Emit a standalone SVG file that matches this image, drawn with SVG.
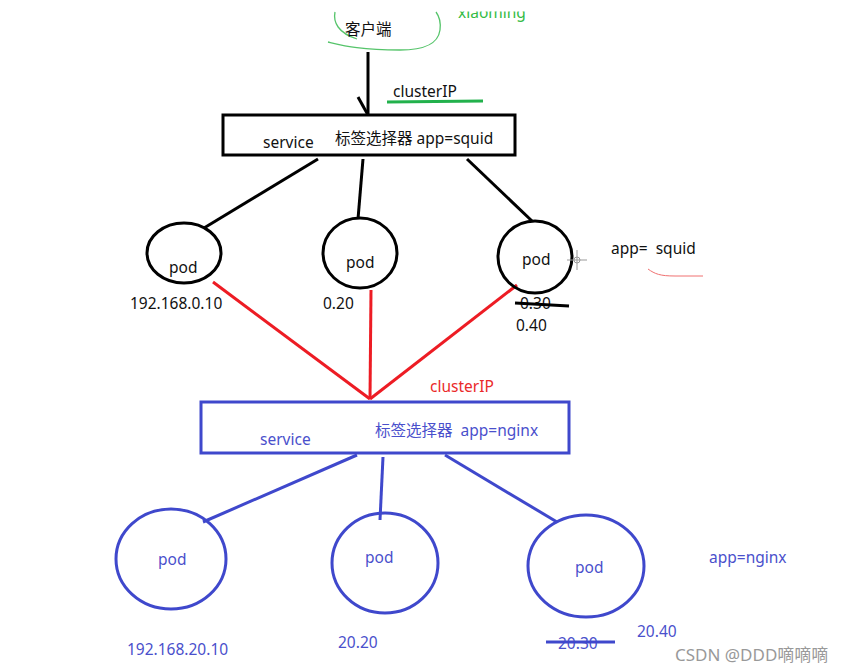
<svg xmlns="http://www.w3.org/2000/svg" width="844" height="672" viewBox="0 0 844 672">
<style>
text{font-family:"Noto Sans","Noto Sans CJK SC",sans-serif;font-size:15.5px;white-space:pre}
.k{fill:#111}
.b{fill:#4a50cc}
.r{fill:#ea2a2a}
.g{fill:#33bb44}
.kl{stroke:#000;stroke-width:3;fill:none}
.rl{stroke:#ed1c24;stroke-width:3;fill:none}
.bl{stroke:#3f48cc;stroke-width:3;fill:none}
</style>
<defs><clipPath id="cut"><rect x="0" y="11.5" width="844" height="660"/></clipPath></defs>
<rect width="844" height="672" fill="#fff"/>

<g id="client">
<path d="M335,12 C333,22 338,33 357,39 M328,42 C345,46 360,50 400,50 C425,50 438,44 440,30 C441,22 439,16 436,12" stroke="#55c46a" stroke-width="1.3" fill="none"/>
<text class="k" x="345" y="35">客户端</text>
<text class="g" x="458" y="18" clip-path="url(#cut)">xiaoming</text>
</g>

<g id="connectors">
<polyline class="kl" points="368,52 368,115"/>
<polyline class="kl" points="358,97 368,115"/>
<line x1="387" y1="102" x2="483" y2="101" stroke="#22b14c" stroke-width="3"/>
<line class="kl" x1="318" y1="159" x2="204" y2="228"/>
<line class="kl" x1="363" y1="159" x2="358" y2="219"/>
<line class="kl" x1="467" y1="159" x2="532" y2="221"/>
<line class="rl" x1="213" y1="282" x2="370" y2="399"/>
<line class="rl" x1="371" y1="290" x2="370" y2="399"/>
<line class="rl" x1="517" y1="285" x2="370" y2="399"/>
<line class="bl" x1="357" y1="455" x2="203" y2="522"/>
<line class="bl" x1="383" y1="457" x2="380" y2="520"/>
<line class="bl" x1="445" y1="455" x2="557" y2="522"/>
</g>

<text class="k" x="393" y="97">clusterIP</text>

<g id="service-squid">
<rect class="kl" x="223" y="115" width="292" height="40"/>
<text class="k" x="263" y="148">service</text>
<text class="k" x="335" y="144">标签选择器 app=squid</text>
</g>

<g id="pod1">
<ellipse class="kl" cx="184" cy="253" rx="37" ry="30"/>
<text class="k" x="169" y="273">pod</text>
<text class="k" x="130" y="309">192.168.0.10</text>
</g>
<g id="pod2">
<ellipse class="kl" cx="360" cy="253" rx="37" ry="35"/>
<text class="k" x="346" y="268">pod</text>
<text class="k" x="323" y="309">0.20</text>
</g>
<g id="pod3">
<ellipse class="kl" cx="535" cy="257" rx="37" ry="36"/>
<text class="k" x="522" y="265">pod</text>
<text class="k" x="520" y="309">0.30</text>
<line x1="515" y1="303" x2="569" y2="306" stroke="#000" stroke-width="3"/>
<text class="k" x="516" y="331">0.40</text>
</g>
<g id="cursor" stroke="#999" stroke-width="1" fill="none">
<circle cx="577" cy="260" r="3"/>
<line x1="567" y1="260" x2="587" y2="260"/>
<line x1="577" y1="250" x2="577" y2="270"/>
</g>
<g id="label-squid">
<text class="k" x="611" y="254">app=  squid</text>
<path d="M648,269 C655,274 660,276 675,276 L703,276" stroke="#f07070" stroke-width="1" fill="none"/>
</g>

<text class="r" x="430" y="392">clusterIP</text>

<g id="service-nginx">
<rect class="bl" x="201" y="402" width="368" height="51"/>
<text class="b" x="260" y="445">service</text>
<text class="b" x="375" y="436">标签选择器  app=nginx</text>
</g>

<g id="npod1">
<ellipse class="bl" cx="171" cy="559" rx="55" ry="50"/>
<text class="b" x="158" y="565">pod</text>
<text class="b" x="127" y="655">192.168.20.10</text>
</g>
<g id="npod2">
<ellipse class="bl" cx="385" cy="563" rx="53" ry="50"/>
<text class="b" x="365" y="563">pod</text>
<text class="b" x="338" y="648">20.20</text>
</g>
<g id="npod3">
<ellipse class="bl" cx="586" cy="566" rx="58" ry="51"/>
<text class="b" x="575" y="573">pod</text>
<text class="b" x="558" y="649">20.30</text>
<line class="bl" x1="546" y1="642" x2="615" y2="642"/>
<text class="b" x="637" y="637">20.40</text>
</g>
<text class="b" x="709" y="563">app=nginx</text>

<text x="675" y="661" fill="#999" style="font-size:17px">CSDN @DDD嘀嘀嘀</text>
</svg>
